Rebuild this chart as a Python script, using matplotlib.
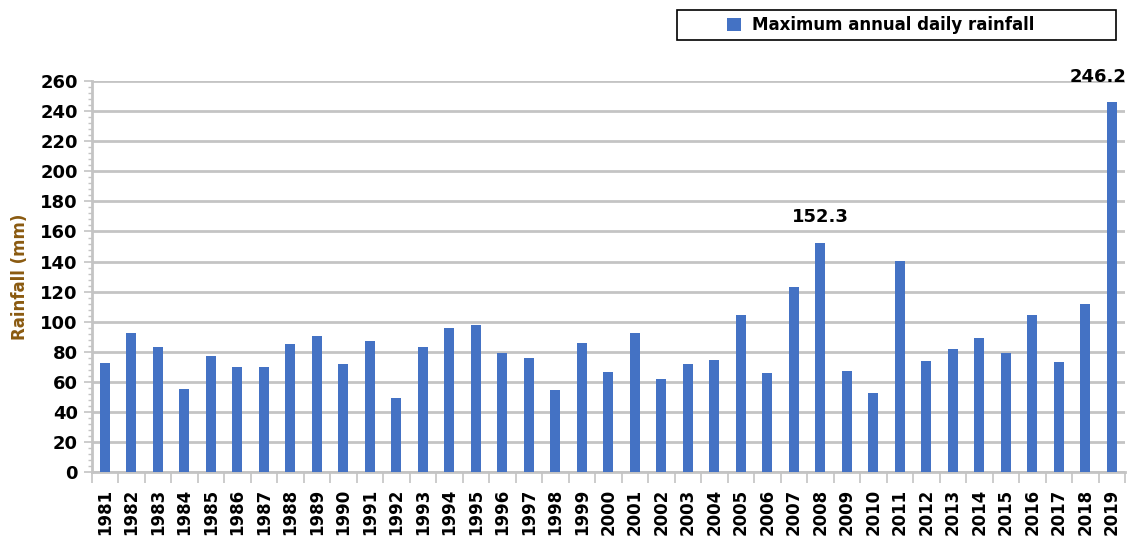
import matplotlib
matplotlib.use("Agg")
import matplotlib.pyplot as plt
from matplotlib.ticker import MultipleLocator, FixedLocator
from matplotlib.patches import Rectangle
import numpy as np

years = [str(y) for y in range(1981, 2020)]
rainfall = [72.4, 92.4, 83.5, 55.1, 77.5, 69.8, 69.8, 85.4, 90.8, 72.0,
            87.5, 49.5, 83.5, 95.7, 97.9, 79.5, 76.2, 54.7, 85.7, 66.9,
            92.4, 61.8, 72.0, 74.6, 104.5, 65.8, 122.9, 152.3, 67.3, 52.9,
            140.6, 74.2, 81.7, 89.0, 79.0, 104.5, 73.1, 111.8, 246.2]
annotated = {"2008": "152.3", "2019": "246.2"}
y_ticks = list(range(0, 261, 20))

bar_color = "#4472C4"
grid_color = "#c4c4c4"

fig = plt.figure(figsize=(11.31, 5.43), dpi=100)
ax = fig.add_axes([0.081, 0.130, 0.9137, 0.721])

x = np.arange(len(years))
bars = ax.bar(x, rainfall, width=0.38, color=bar_color, zorder=3,
              label="Maximum annual daily rainfall")

ax.set_xlim(-0.5, len(years) - 0.5)
ax.set_ylim(0, 260)
ax.set_yticks(y_ticks)
ax.set_yticklabels([str(t) for t in y_ticks], fontsize=13, fontweight="bold")
ax.yaxis.set_minor_locator(MultipleLocator(4))
ax.tick_params(axis="y", which="major", length=6, color=grid_color, width=1.2, pad=4)
ax.tick_params(axis="y", which="minor", length=3, color=grid_color, width=1)

ax.set_xticks(x)
ax.set_xticklabels(years, rotation=90, fontsize=12, fontweight="bold")
ax.xaxis.set_minor_locator(FixedLocator(np.arange(-0.5, len(years), 1.0)))
ax.tick_params(axis="x", which="major", length=0, pad=12)
ax.tick_params(axis="x", which="minor", length=8, color=grid_color, width=1.2)

ax.grid(axis="y", color=grid_color, linewidth=2, zorder=0)
for side in ["top", "right"]:
    ax.spines[side].set_visible(False)
for side in ["left", "bottom"]:
    ax.spines[side].set_color(grid_color)
    ax.spines[side].set_linewidth(2)

ax.set_ylabel("Rainfall (mm)", fontsize=12, fontweight="bold", color="#8a5a10", labelpad=8)

offsets = {"2008": (0, 12), "2019": (-10, 11)}
for i, (yr, v) in enumerate(zip(years, rainfall)):
    if yr in annotated:
        ax.annotate(annotated[yr], (i, v), xytext=offsets[yr], textcoords="offset points",
                    ha="center", va="bottom", fontsize=13, fontweight="bold",
                    annotation_clip=False)

# legend box (frame drawn separately so the entry sits inset like the reference)
fig.patches.append(Rectangle((0.599, 0.926), 0.388, 0.055, transform=fig.transFigure,
                             fill=False, edgecolor="black", linewidth=1.2))
leg = fig.legend(handles=[bars], labels=["Maximum annual daily rainfall"],
                 loc="center left", bbox_to_anchor=(0.643, 0.9535),
                 frameon=False, handlelength=0.8, handleheight=0.8,
                 borderpad=0, borderaxespad=0, handletextpad=0.7,
                 prop={"weight": "bold", "size": 12})

fig.savefig("out.png", dpi=100)
